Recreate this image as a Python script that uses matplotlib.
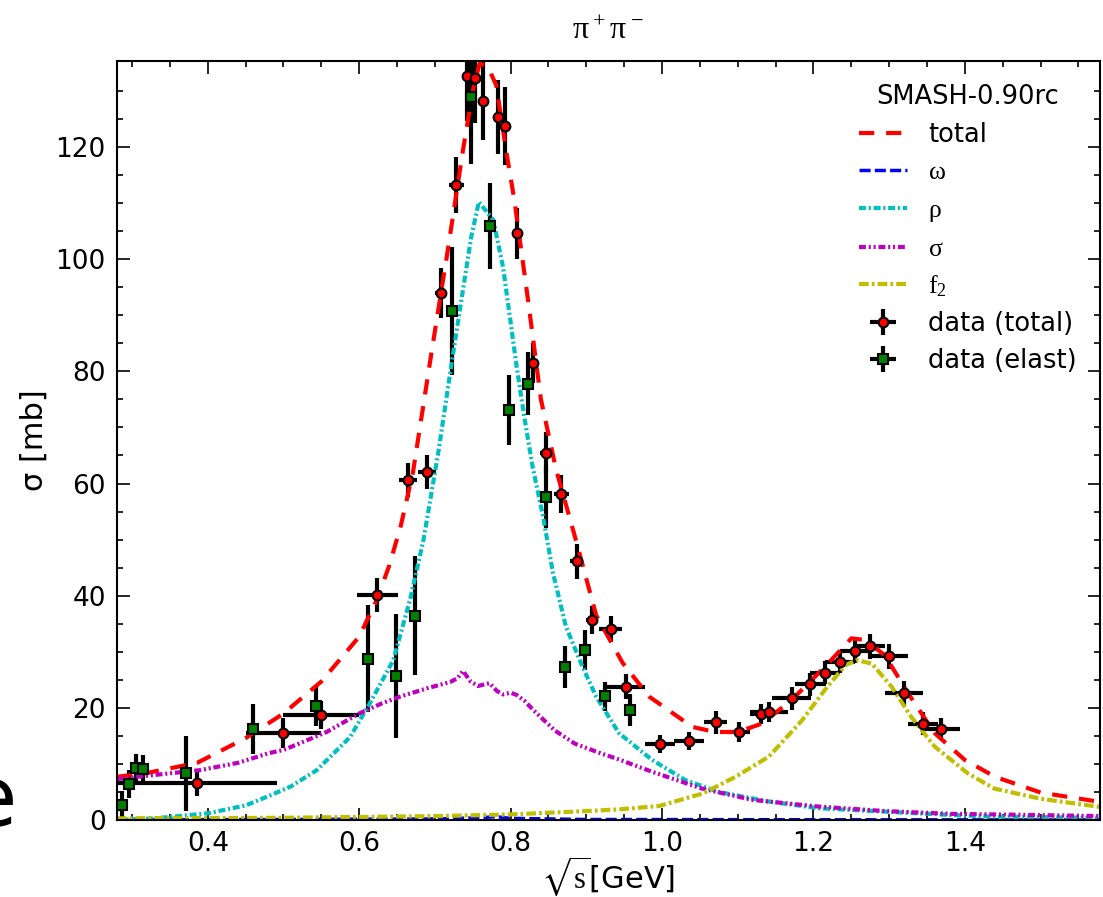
import numpy as np
import matplotlib.pyplot as plt

plt.rcParams['mathtext.fontset'] = 'custom'
plt.rcParams['mathtext.rm'] = 'Liberation Serif'
plt.rcParams['mathtext.it'] = 'Liberation Serif'
plt.rcParams['mathtext.bf'] = 'Liberation Serif:bold'
plt.rcParams['mathtext.fallback'] = 'stix'
plt.rcParams['lines.scale_dashes'] = False
plt.rcParams['xtick.direction'] = 'in'
plt.rcParams['ytick.direction'] = 'in'

# model curves (SMASH)
x_tot = [0.28, 0.32, 0.386, 0.45, 0.5, 0.55, 0.6, 0.624, 0.64, 0.655, 0.671, 0.696, 0.717, 0.737,
         0.75, 0.759, 0.77, 0.781, 0.794, 0.805, 0.823, 0.84, 0.86, 0.886, 0.913, 0.948, 0.983, 1.04,
         1.07, 1.10, 1.132, 1.171, 1.215, 1.25, 1.268, 1.294, 1.325, 1.36, 1.40, 1.44, 1.5, 1.58]
y_tot = [7.7, 8.4, 10.2, 14.6, 19.0, 24.7, 32.7, 39.5, 45.5, 52.5, 62.0, 83.8, 101.6, 119.4,
         130.0, 134.9, 134.3, 131.0, 119.4, 110.5, 92.7, 75.0, 62.5, 50.0, 36.5, 28.0, 22.0, 16.6,
         15.7, 15.7, 17.2, 21.4, 27.3, 32.4, 32.1, 29.4, 22.6, 15.5, 10.7, 7.7, 4.9, 3.2]

x_omega = [0.28, 0.5, 0.7, 0.76, 0.78, 0.80, 0.9, 1.2, 1.58]
y_omega = [0.05, 0.1, 0.2, 0.4, 0.6, 0.3, 0.1, 0.05, 0.02]

x_rho = [0.28, 0.33, 0.4, 0.45, 0.479, 0.51, 0.544, 0.588, 0.614, 0.645, 0.667, 0.685, 0.705,
         0.722, 0.737, 0.748, 0.758, 0.777, 0.79, 0.799, 0.808, 0.818, 0.829, 0.843, 0.856,
         0.873, 0.895, 0.913, 0.943, 0.987, 1.031, 1.075, 1.141, 1.207, 1.294, 1.382, 1.44, 1.58]
y_rho = [0.0, 0.3, 1.2, 2.6, 4.2, 6.0, 8.9, 14.8, 20.8, 28.5, 39.2, 50.0, 66.0,
         81.4, 94.5, 104.0, 110.2, 107.0, 98.6, 89.7, 80.8, 71.9, 63.0, 54.0, 44.0,
         34.5, 27.3, 22.0, 15.5, 10.7, 7.1, 5.0, 3.3, 2.1, 1.5, 0.9, 0.6, 0.4]

x_sig = [0.28, 0.32, 0.39, 0.44, 0.48, 0.5, 0.52, 0.557, 0.6, 0.63, 0.654, 0.69, 0.72, 0.73,
         0.737, 0.747, 0.757, 0.772, 0.782, 0.79, 0.80, 0.808, 0.818, 0.83, 0.858, 0.885,
         0.917, 0.943, 0.987, 1.053, 1.119, 1.207, 1.294, 1.382, 1.44, 1.58]
y_sig = [7.3, 7.9, 8.9, 10.2, 11.9, 12.5, 13.6, 15.7, 19.0, 20.8, 22.0, 23.5, 24.6, 25.3,
         26.6, 24.7, 23.9, 24.4, 23.0, 22.4, 22.7, 22.3, 21.3, 19.6, 16.0, 13.6,
         12.0, 10.8, 8.6, 5.6, 3.6, 2.4, 1.6, 1.1, 1.0, 0.7]

x_f2 = [0.28, 0.5, 0.7, 0.8, 0.9, 0.943, 0.996, 1.053, 1.097, 1.141, 1.185, 1.215, 1.242,
        1.257, 1.277, 1.303, 1.329, 1.36, 1.404, 1.439, 1.5, 1.58]
y_f2 = [0.3, 0.4, 0.7, 1.0, 1.6, 1.9, 2.5, 4.7, 7.7, 11.3, 17.8, 23.2, 27.6,
        28.5, 27.9, 23.8, 18.4, 13.1, 8.3, 5.6, 3.8, 2.3]

# data (total)
xt = [0.386, 0.5, 0.55, 0.624, 0.664, 0.689, 0.708, 0.728, 0.743, 0.753, 0.763, 0.783, 0.793,
      0.808, 0.829, 0.847, 0.867, 0.887, 0.907, 0.932, 0.952, 0.997, 1.036, 1.071, 1.101,
      1.131, 1.141, 1.171, 1.196, 1.215, 1.235, 1.255, 1.275, 1.3, 1.32, 1.345, 1.369]
yt = [6.6, 15.5, 18.7, 40.1, 60.6, 62.0, 94.0, 113.3, 132.7, 132.3, 128.2, 125.4, 123.7,
      104.6, 81.5, 65.5, 58.1, 46.1, 35.6, 34.0, 23.8, 13.5, 14.1, 17.4, 15.7,
      18.9, 19.2, 21.7, 24.2, 26.3, 28.2, 30.2, 31.0, 29.2, 22.6, 17.2, 16.2]
xt_err = [0.105, 0.05, 0.05, 0.027, 0.012, 0.012, 0.008, 0.01, 0.005, 0.005, 0.005, 0.005, 0.005,
          0.006, 0.008, 0.008, 0.01, 0.008, 0.008, 0.015, 0.026, 0.02, 0.02, 0.015, 0.015,
          0.015, 0.025, 0.026, 0.02, 0.02, 0.02, 0.02, 0.02, 0.025, 0.025, 0.02, 0.025]
yt_err = [2.4, 2.7, 2.5, 3.0, 3.0, 3.0, 4.5, 5.0, 8.0, 8.0, 7.0, 6.6, 7.0,
          4.6, 3.5, 3.6, 3.4, 3.2, 2.5, 2.3, 2.3, 1.6, 1.6, 2.0, 1.7,
          1.8, 1.8, 2.0, 2.0, 2.0, 2.0, 2.2, 2.2, 2.2, 2.2, 2.0, 2.0]

# data (elastic)
xe = [0.287, 0.296, 0.305, 0.315, 0.371, 0.46, 0.543, 0.612, 0.649, 0.674, 0.723, 0.748,
      0.773, 0.798, 0.823, 0.847, 0.872, 0.898, 0.925, 0.957]
ye = [2.6, 6.5, 9.2, 9.1, 8.3, 16.2, 20.4, 28.8, 25.7, 36.4, 90.8, 128.9,
      105.9, 73.1, 77.8, 57.6, 27.3, 30.3, 22.1, 19.6]
ye_err = [2.5, 2.5, 2.5, 2.5, 6.7, 4.4, 3.6, 9.5, 11.0, 10.6, 11.4, 12.0,
          7.6, 6.2, 5.6, 5.5, 3.7, 3.6, 2.6, 2.8]
xe_err = [0.0] * len(xe)

fig = plt.figure(figsize=(11.03, 8.97), dpi=100)
ax = fig.add_axes([0.106, 0.0858, 0.891, 0.846])

ax.errorbar(xt, yt, xerr=xt_err, yerr=yt_err, fmt='o', color='k', ecolor='k',
            elinewidth=3, capsize=0, markersize=7, markerfacecolor='r',
            markeredgecolor='k', markeredgewidth=1.5, label='data (total)')
ax.errorbar(xe, ye, xerr=xe_err, yerr=ye_err, fmt='s', color='k', ecolor='k',
            elinewidth=3, capsize=0, markersize=6.5, markerfacecolor='g',
            markeredgecolor='k', markeredgewidth=1.5, label='data (elast)')

ax.plot(x_tot, y_tot, color='r', lw=3, dashes=(11, 8.5), label='total')
ax.plot(x_omega, y_omega, color='b', lw=2.5, dashes=(8, 3), label=r'$\omega$')
ax.plot(x_rho, y_rho, color='c', lw=3, dashes=(5, 2, 1.5, 2), label=r'$\rho$')
ax.plot(x_sig, y_sig, color='m', lw=3, dashes=(5, 2, 1.5, 2, 1.5, 2), label=r'$\sigma$')
ax.plot(x_f2, y_f2, color='y', lw=3, dashes=(7, 2.2, 2, 2.2), label=r'$f_2$')

ax.set_xlim(0.28, 1.578)
ax.set_ylim(0, 135.3)
ax.set_xticks([0.4, 0.6, 0.8, 1.0, 1.2, 1.4])
ax.set_xticks(np.arange(0.3, 1.58, 0.05), minor=True)
ax.set_yticks([0, 20, 40, 60, 80, 100, 120])
ax.set_yticks(np.arange(0, 135, 5), minor=True)
ax.tick_params(which='both', top=True, right=True, labelsize=19, width=1.2)
ax.tick_params(which='major', length=9, pad=8)
ax.tick_params(which='minor', length=4.5)
for s in ax.spines.values():
    s.set_linewidth(1.5)

ax.set_xlabel(r'$\sqrt{s}$[GeV]', fontsize=22, labelpad=-2)
ax.set_ylabel('σ [mb]', fontsize=22, labelpad=5)
ax.set_title(r'$\pi^+\pi^-$', fontsize=23, pad=16)

handles, labels = ax.get_legend_handles_labels()
order = ['total', r'$\omega$', r'$\rho$', r'$\sigma$', r'$f_2$', 'data (total)', 'data (elast)']
hs = [handles[labels.index(l)] for l in order]
leg = ax.legend(hs, order, loc='upper right', frameon=False, fontsize=18.5,
                title='SMASH-0.90rc', title_fontsize=18.5, handlelength=1.9,
                labelspacing=0.45, numpoints=1)

fig.text(17 / 1103, 71 / 897, 'e', ha='right', va='baseline', fontsize=60)

plt.savefig('out.png', dpi=100)
